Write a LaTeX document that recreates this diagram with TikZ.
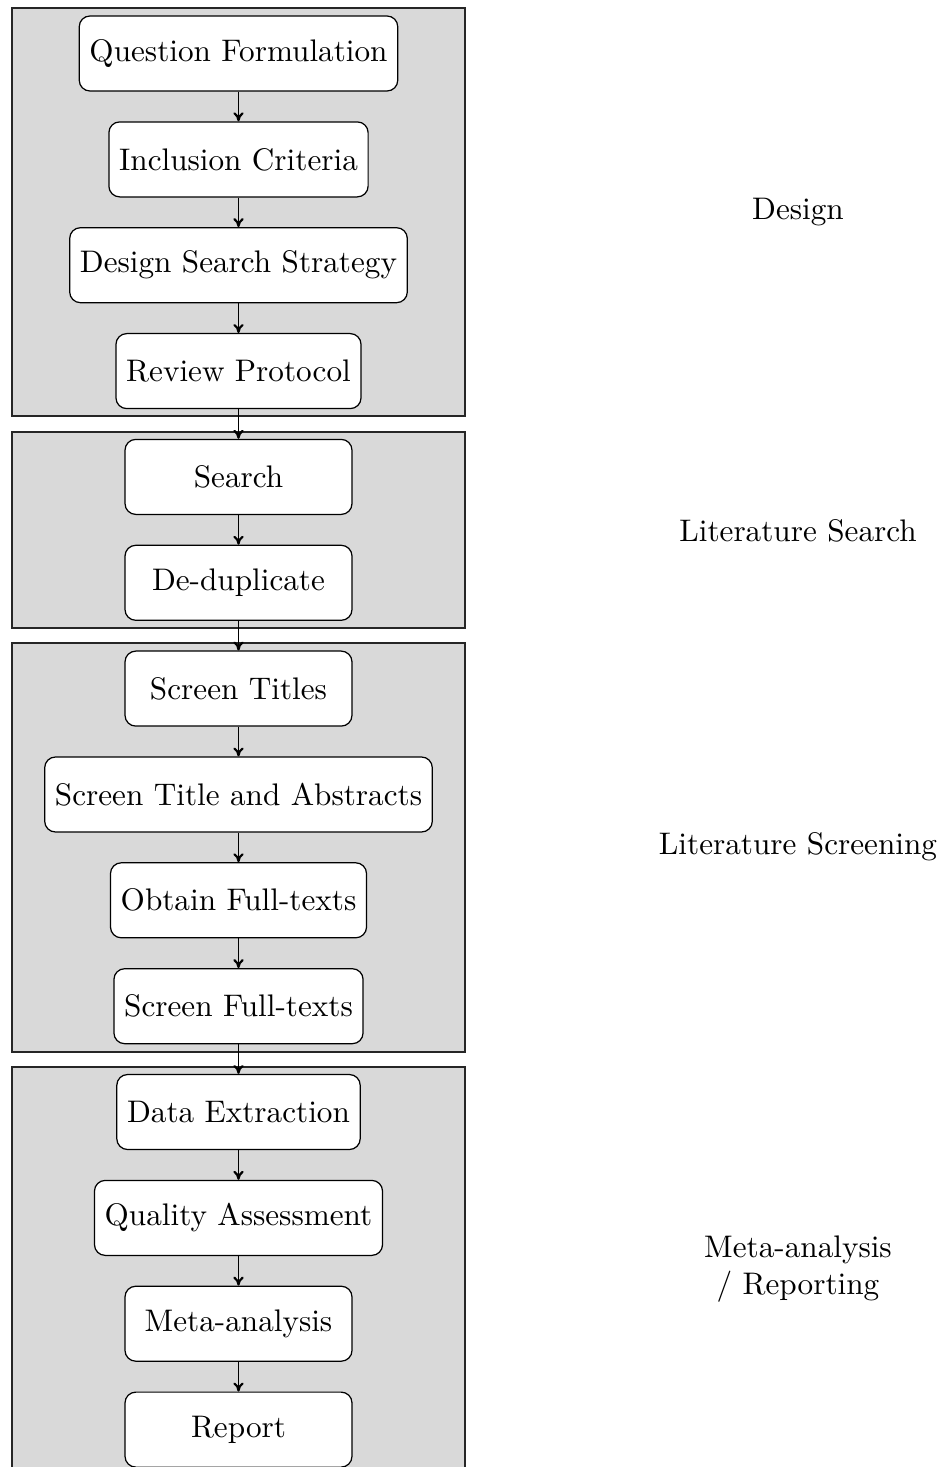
\documentclass[tikz,border=0pt]{standalone}
\usetikzlibrary{fit,arrows.meta}
\begin{document}
\begin{tikzpicture}[x=0.32468pt,y=-0.32468pt,
  every node/.style={font=\fontsize{10.13pt}{12.2pt}\selectfont},
  stepbox/.style={draw=black, fill=white, rounded corners=3.5pt, inner sep=3.33pt,
    minimum width=73.7pt, minimum height=24.35pt, line width=0.4pt},
  panel/.style={draw=black!85, fill=black!15, inner sep=0pt, line width=0.45pt},
  flow/.style={-{To[length=2.9pt,width=3.3pt,line width=0.7pt]}, line width=0.5pt},
  phase/.style={align=center, inner sep=0pt}]
\useasboundingbox (0,0) rectangle (942,1467);
% panels
\node[panel, fit={(12,8) (465,416)}] (p1) {};
\node[panel, fit={(12,432) (465,628)}] (p2) {};
\node[panel, fit={(12,643) (465,1052)}] (p3) {};
\node[panel, fit={(12,1067) (465,1469)}] (p4) {};
% steps
\node[stepbox] (qf)  at (238.5,53.5)   {Question Formulation};
\node[stepbox] (ic)  at (238.5,159.4)  {Inclusion Criteria};
\node[stepbox] (dss) at (238.5,265.2)  {Design Search Strategy};
\node[stepbox] (rp)  at (238.5,371.1)  {Review Protocol};
\node[stepbox] (se)  at (238.5,476.9)  {Search};
\node[stepbox] (dd)  at (238.5,582.8)  {De-duplicate};
\node[stepbox] (st)  at (238.5,688.6)  {Screen Titles};
\node[stepbox] (sta) at (238.5,794.5)  {Screen Title and Abstracts};
\node[stepbox] (oft) at (238.5,900.3)  {Obtain Full-texts};
\node[stepbox] (sft) at (238.5,1006.2) {Screen Full-texts};
\node[stepbox] (de)  at (238.5,1112.0) {Data Extraction};
\node[stepbox] (qa)  at (238.5,1217.9) {Quality Assessment};
\node[stepbox] (ma)  at (238.5,1323.7) {Meta-analysis};
\node[stepbox] (rep) at (238.5,1429.6) {Report};
% arrows
\draw[flow] (qf) -- (ic);
\draw[flow] (ic) -- (dss);
\draw[flow] (dss) -- (rp);
\draw[flow] (rp) -- (se);
\draw[flow] (se) -- (dd);
\draw[flow] (dd) -- (st);
\draw[flow] (st) -- (sta);
\draw[flow] (sta) -- (oft);
\draw[flow] (oft) -- (sft);
\draw[flow] (sft) -- (de);
\draw[flow] (de) -- (qa);
\draw[flow] (qa) -- (ma);
\draw[flow] (ma) -- (rep);
% phase labels
\node[phase] (l1) at (798,212) {Design};
\node[phase] (l2) at (798,531) {Literature Search};
\node[phase] (l3) at (798,847) {Literature Screening};
\node[phase] (l4) at (798,1269) {Meta-analysis\\ / Reporting};
\end{tikzpicture}
\end{document}
